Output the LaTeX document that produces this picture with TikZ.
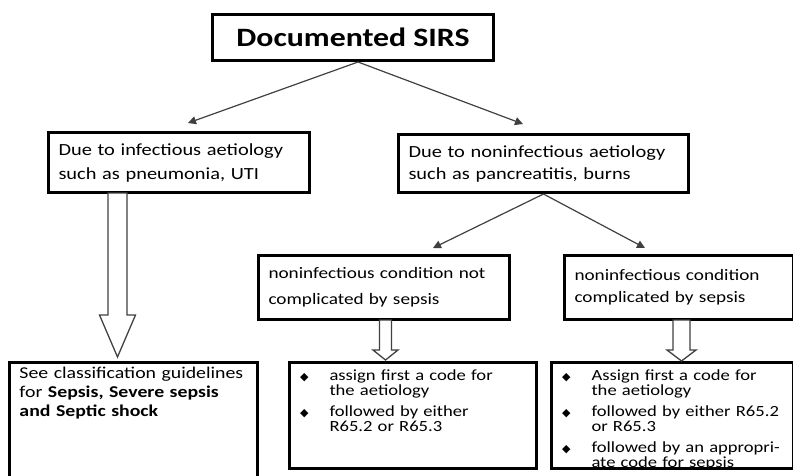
\documentclass[tikz,border=0pt]{standalone}
\usepackage{fontspec}
\setmainfont{Carlito}[FakeStretch=1.2]
\newfontfamily\symfont{DejaVu Sans}
\usetikzlibrary{arrows.meta}

\newcommand\bitem[2]{\par\noindent\makebox[32pt][l]{\hspace{2.5pt}\raisebox{.5pt}{\symfont\fontsize{11}{11}\selectfont ◆}}#1%
  \par\noindent\hspace*{32pt}#2\par}

\begin{document}
\begin{tikzpicture}[x=1pt,y=-1pt,
  box/.style={draw, line width=3pt, anchor=north west, inner xsep=10pt, align=left},
  conn/.style={draw=black!75, line width=1.2pt, -{Triangle[length=8pt,width=8pt]}},
  hollow/.style={draw=black!75, line width=1.3pt, fill=white}]
  \clip (0,0) rectangle (793,475);

  \node[box, align=center, minimum width=281pt, minimum height=46pt,
    font=\fontsize{26.5}{30}\selectfont\bfseries] (sirs) at (211,13) {Documented SIRS};

  \node[box, minimum width=261pt, minimum height=60pt, text width=241pt,
    font=\fontsize{17}{24}\selectfont] (infect) at (47,131)
    {Due to infectious aetiology\\such as pneumonia, UTI};
  \node[box, minimum width=290pt, minimum height=58pt, text width=270pt,
    font=\fontsize{17}{22}\selectfont] (noninfect) at (397,133)
    {Due to noninfectious aetiology\\such as pancreatitis, burns};

  \node[box, minimum width=251pt, minimum height=64pt, text width=231pt,
    font=\fontsize{16}{26}\selectfont] (notcompl) at (257,254)
    {noninfectious condition not\\complicated by sepsis};
  \node[box, minimum width=229pt, minimum height=64pt, text width=209pt,
    font=\fontsize{16}{22}\selectfont] (compl) at (563,254)
    {noninfectious condition\\complicated by sepsis};

  \node[box, inner ysep=5pt, text width=228pt, text depth=100pt,
    font=\fontsize{16.5}{19}\selectfont] (guide) at (8,361)
    {See classification guidelines\\for \textbf{Sepsis, Severe sepsis}\\\textbf{and Septic shock}};
  \node[box, inner xsep=8pt, inner ysep=3pt, text width=231pt, text depth=100pt,
    font=\fontsize{15.5}{15}\selectfont] (notcode) at (288,361)
    {\bitem{assign first a code for}{the aetiology}\vspace{6pt}%
     \bitem{followed by either}{R65.2 or R65.3}};
  \node[box, inner xsep=8pt, inner ysep=3pt, text width=226pt, text depth=100pt,
    font=\fontsize{15.5}{15}\selectfont] (compcode) at (550,361)
    {\bitem{Assign first a code for}{the aetiology}\vspace{6pt}%
     \bitem{followed by either R65.2}{or R65.3}\vspace{6pt}%
     \bitem{followed by an appropri-}{ate code for sepsis}};

  \coordinate (tip1) at (188,123);
  \coordinate (tip2) at (523,124);
  \coordinate (tip3) at (433,248);
  \coordinate (tip4) at (645,248);
  \draw[conn] ([xshift=5pt]sirs.south) -- (tip1);
  \draw[conn] ([xshift=5pt]sirs.south) -- (tip2);
  \draw[conn] (noninfect.south) -- (tip3);
  \draw[conn] (noninfect.south) -- (tip4);

  % hollow block arrows
  \foreach \x/\ya/\yb/\yc/\s/\h in {117.5/193/315/357/9.5/18, 385.5/320/350/360/6/12.5, 681.5/320/350/361/8.5/14.5}
    \draw[hollow] (\x-\s,\ya) -- (\x-\s,\yb) -- (\x-\h,\yb) -- (\x,\yc)
      -- (\x+\h,\yb) -- (\x+\s,\yb) -- (\x+\s,\ya) -- cycle;
\end{tikzpicture}
\end{document}
